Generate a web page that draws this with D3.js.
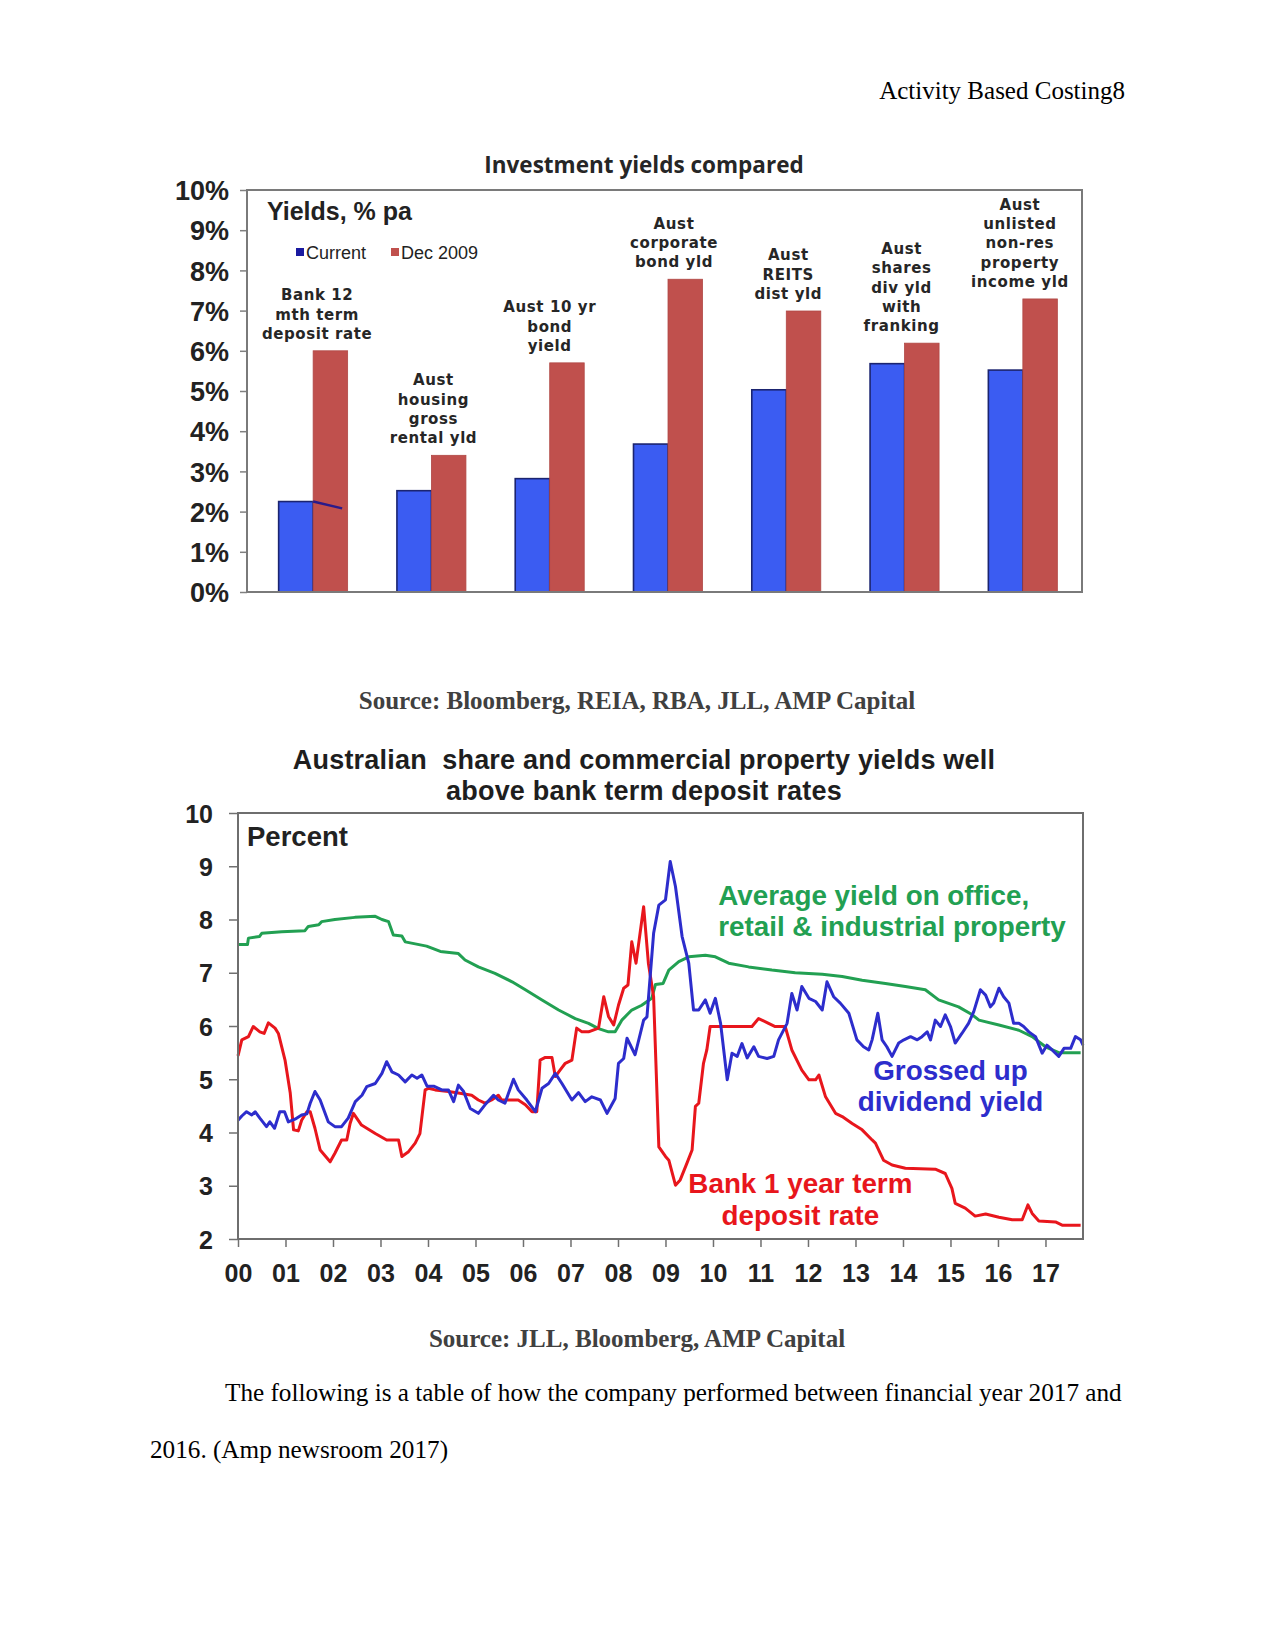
<!DOCTYPE html>
<html>
<head>
<meta charset="utf-8">
<script src="https://cdn.jsdelivr.net/npm/d3@7"></script>
<style>
  html, body { margin: 0; padding: 0; background: #fff; }
  svg { display: block; }
</style>
</head>
<body>
<svg id="page" width="1275" height="1650"></svg>
<script>
// ---------------- DATA ----------------
// Chart 1: Investment yields compared (% pa)
const barCategories = [
  ["Bank 12", "mth term", "deposit rate"],
  ["Aust", "housing", "gross", "rental yld"],
  ["Aust 10 yr", "bond", "yield"],
  ["Aust", "corporate", "bond yld"],
  ["Aust", "REITS", "dist yld"],
  ["Aust", "shares", "div yld", "with", "franking"],
  ["Aust", "unlisted", "non-res", "property", "income yld"]
];
const barSeries = ["Current", "Dec 2009"];
const currentYields = [2.25, 2.52, 2.82, 3.68, 5.03, 5.68, 5.52];
const dec2009Yields = [6.0, 3.4, 5.7, 7.78, 6.99, 6.19, 7.29];
const barTicks = [0, 1, 2, 3, 4, 5, 6, 7, 8, 9, 10];

// Chart 2: yields, percent; x = years since 2000
const yearTicks = ["00","01","02","03","04","05","06","07","08","09","10","11","12","13","14","15","16","17"];
const lineTicks = [2, 3, 4, 5, 6, 7, 8, 9, 10];
const propertyYield = [
  [0,7.53],[0.2,7.53],[0.22,7.65],[0.45,7.68],[0.5,7.74],[0.92,7.77],[1.41,7.79],[1.48,7.87],[1.7,7.9],
  [1.76,7.96],[2.04,8.0],[2.46,8.04],[2.89,8.06],[3.03,8.0],[3.17,7.96],[3.27,7.71],[3.45,7.69],[3.52,7.58],
  [3.97,7.5],[4.26,7.4],[4.64,7.36],[4.78,7.24],[5.06,7.11],[5.41,6.99],[5.77,6.83],[6.05,6.68],[6.4,6.49],
  [6.75,6.3],[7.1,6.14],[7.38,6.05],[7.59,5.95],[7.8,5.89],[7.94,5.89],[8.08,6.11],[8.29,6.3],[8.5,6.39],
  [8.71,6.52],[8.79,6.78],[8.95,6.8],[9.07,7.05],[9.28,7.21],[9.49,7.3],[9.84,7.33],[10.05,7.3],[10.33,7.18],
  [10.75,7.11],[11.24,7.05],[11.73,7.0],[12.3,6.97],[12.72,6.93],[13.14,6.86],[13.63,6.8],[14.05,6.74],
  [14.47,6.68],[14.75,6.49],[15.17,6.36],[15.46,6.21],[15.6,6.11],[16.02,6.02],[16.44,5.92],[16.72,5.8],
  [17.0,5.61],[17.28,5.5],[17.74,5.5]
];
const depositRate = [
  [0,5.44],[0.08,5.74],[0.22,5.8],[0.32,5.99],[0.46,5.89],[0.55,5.86],[0.64,6.06],[0.78,5.96],[0.85,5.86],
  [0.99,5.36],[1.1,4.74],[1.17,4.05],[1.27,4.03],[1.34,4.23],[1.45,4.39],[1.52,4.39],[1.62,4.08],[1.73,3.67],
  [1.94,3.45],[2.04,3.61],[2.18,3.86],[2.29,3.86],[2.36,4.17],[2.43,4.36],[2.6,4.14],[2.89,3.98],[3.13,3.86],
  [3.38,3.86],[3.45,3.55],[3.59,3.64],[3.73,3.8],[3.83,3.98],[3.94,4.8],[4.01,4.83],[4.15,4.8],[4.43,4.77],
  [4.64,4.74],[4.92,4.7],[5.06,4.61],[5.2,4.55],[5.34,4.61],[5.48,4.7],[5.55,4.61],[5.9,4.61],[6.05,4.52],
  [6.19,4.39],[6.29,4.39],[6.36,5.36],[6.47,5.41],[6.61,5.41],[6.68,5.05],[6.78,5.17],[6.89,5.3],[7.03,5.36],
  [7.13,5.96],[7.24,5.89],[7.38,5.89],[7.59,5.96],[7.7,6.55],[7.8,6.18],[7.91,6.02],[8.01,6.39],[8.12,6.71],
  [8.21,6.77],[8.29,7.58],[8.38,7.18],[8.54,8.24],[8.64,7.18],[8.75,6.55],[8.86,3.73],[9.0,3.55],[9.07,3.48],
  [9.21,3.01],[9.31,3.11],[9.45,3.42],[9.56,3.67],[9.63,4.49],[9.7,4.55],[9.8,5.3],[9.87,5.55],[9.94,5.99],
  [10.82,5.99],[10.96,6.14],[11.17,6.05],[11.31,5.99],[11.52,5.99],[11.66,5.55],[11.87,5.17],[12.02,4.99],
  [12.16,4.99],[12.23,5.08],[12.37,4.67],[12.58,4.36],[12.72,4.3],[12.93,4.17],[13.14,4.05],[13.35,3.86],
  [13.42,3.8],[13.59,3.48],[13.77,3.39],[14.05,3.33],[14.68,3.31],[14.89,3.23],[15.03,2.95],[15.1,2.67],
  [15.31,2.58],[15.52,2.43],[15.74,2.47],[16.02,2.41],[16.3,2.36],[16.51,2.36],[16.63,2.64],[16.72,2.48],
  [16.86,2.34],[17.21,2.32],[17.35,2.26],[17.74,2.26]
];
const dividendYield = [
  [0,4.23],[0.08,4.31],[0.18,4.39],[0.29,4.33],[0.36,4.39],[0.46,4.27],[0.6,4.11],[0.67,4.2],[0.77,4.08],
  [0.88,4.39],[0.98,4.39],[1.06,4.2],[1.2,4.25],[1.34,4.33],[1.45,4.35],[1.52,4.55],[1.62,4.77],[1.73,4.61],
  [1.9,4.2],[2.04,4.11],[2.18,4.11],[2.32,4.27],[2.47,4.58],[2.61,4.7],[2.71,4.86],[2.89,4.92],[3.03,5.11],
  [3.13,5.33],[3.24,5.14],[3.38,5.08],[3.52,4.95],[3.66,5.08],[3.77,5.02],[3.87,5.08],[3.98,4.87],[4.12,4.87],
  [4.29,4.8],[4.43,4.8],[4.54,4.58],[4.64,4.89],[4.75,4.77],[4.89,4.45],[5.06,4.36],[5.2,4.52],[5.38,4.7],
  [5.48,4.61],[5.62,4.55],[5.8,5.0],[5.9,4.8],[6.08,4.61],[6.26,4.39],[6.4,4.83],[6.54,4.92],[6.68,5.11],
  [6.82,4.92],[7.03,4.61],[7.17,4.75],[7.31,4.58],[7.45,4.67],[7.63,4.61],[7.77,4.36],[7.94,4.64],[8.01,5.3],
  [8.12,5.39],[8.19,5.77],[8.36,5.46],[8.54,6.11],[8.61,6.17],[8.75,7.74],[8.86,8.27],[9.0,8.37],[9.1,9.09],
  [9.21,8.62],[9.35,7.68],[9.49,7.18],[9.59,6.3],[9.7,6.3],[9.84,6.49],[9.94,6.24],[10.05,6.52],[10.16,6.05],
  [10.3,4.99],[10.4,5.49],[10.51,5.43],[10.61,5.67],[10.72,5.4],[10.86,5.61],[10.96,5.43],[11.14,5.39],
  [11.28,5.43],[11.38,5.74],[11.56,6.05],[11.66,6.61],[11.77,6.3],[11.87,6.74],[12.02,6.52],[12.16,6.46],
  [12.3,6.3],[12.4,6.83],[12.54,6.55],[12.68,6.43],[12.86,6.24],[13.03,5.74],[13.17,5.61],[13.28,5.55],
  [13.35,5.74],[13.47,6.24],[13.56,5.74],[13.66,5.61],[13.77,5.43],[13.91,5.68],[14.02,5.74],[14.16,5.8],
  [14.3,5.74],[14.4,5.8],[14.51,5.89],[14.58,5.74],[14.68,6.11],[14.79,5.99],[14.89,6.21],[15.0,5.99],
  [15.1,5.68],[15.24,5.86],[15.38,6.05],[15.49,6.27],[15.63,6.68],[15.74,6.58],[15.84,6.36],[15.91,6.43],
  [16.02,6.71],[16.12,6.55],[16.23,6.43],[16.33,6.05],[16.44,6.05],[16.54,5.99],[16.65,5.89],[16.79,5.8],
  [16.93,5.49],[17.03,5.64],[17.14,5.55],[17.28,5.43],[17.39,5.58],[17.53,5.58],[17.63,5.8],[17.74,5.74],
  [17.79,5.64]
];

// ---------------- DRAW ----------------
const svg = d3.select("#page");
svg.append("rect").attr("width", 1275).attr("height", 1650).attr("fill", "#fff");

const SANS = "'Liberation Sans', Arial, sans-serif";
const SERIF = "'Liberation Serif', 'Times New Roman', serif";

// Page header & text
svg.append("text").attr("x", 1125).attr("y", 99).attr("text-anchor", "end")
  .attr("font-family", SERIF).attr("font-size", 25).attr("fill", "#000")
  .text("Activity Based Costing8");

svg.append("text").attr("x", 637).attr("y", 709).attr("text-anchor", "middle")
  .attr("font-family", SERIF).attr("font-size", 25).attr("font-weight", "bold").attr("fill", "#404040")
  .text("Source: Bloomberg, REIA, RBA, JLL, AMP Capital");

svg.append("text").attr("x", 637).attr("y", 1347).attr("text-anchor", "middle")
  .attr("font-family", SERIF).attr("font-size", 25).attr("font-weight", "bold").attr("fill", "#404040")
  .text("Source: JLL, Bloomberg, AMP Capital");

svg.append("text").attr("x", 225).attr("y", 1401)
  .attr("font-family", SERIF).attr("font-size", 25.2).attr("fill", "#000")
  .text("The following is a table of how the company performed between financial year 2017 and");
svg.append("text").attr("x", 150).attr("y", 1458)
  .attr("font-family", SERIF).attr("font-size", 25.2).attr("fill", "#000")
  .text("2016. (Amp newsroom 2017)");

// ===== Chart 1 =====
(function() {
  const L = 247, R = 1082, T = 190, B = 592;
  const y = d3.scaleLinear().domain([0, 10]).range([B, T]);
  const x0 = d3.scaleBand().domain(d3.range(barCategories.length)).range([254, 1082]).padding(0);
  const x1 = d3.scaleBand().domain(barSeries).range([-34.5, 34.5]);
  const g = svg.append("g");

  g.append("text").attr("x", 644).attr("y", 173).attr("text-anchor", "middle")
    .attr("font-family", "'Open Sans', sans-serif").attr("font-weight", 700).attr("font-size", 22.5)
    .attr("fill", "#262626").text("Investment yields compared");

  const yAxis = g.append("g").attr("transform", `translate(${L},0)`)
    .call(d3.axisLeft(y).tickValues(barTicks).tickSize(7).tickPadding(11).tickFormat(d => d + "%"));
  yAxis.select(".domain").remove();
  yAxis.selectAll(".tick line").attr("stroke", "#808080").attr("stroke-width", 1.5);
  yAxis.selectAll(".tick text").attr("font-family", SANS).attr("font-weight", "bold")
    .attr("font-size", 27).attr("fill", "#222").attr("dy", "0.36em");

  // bars
  const groups = g.selectAll(".grp").data(barCategories).join("g")
    .attr("transform", (d, i) => `translate(${x0(i) + x0.bandwidth() / 2},0)`);
  groups.append("rect")
    .attr("x", x1("Current")).attr("width", x1.bandwidth())
    .attr("y", (d, i) => y(currentYields[i])).attr("height", (d, i) => B - y(currentYields[i]))
    .attr("fill", "#3b5cf2").attr("stroke", "#1b2470").attr("stroke-width", 1.6);
  groups.append("rect")
    .attr("x", x1("Dec 2009")).attr("width", x1.bandwidth())
    .attr("y", (d, i) => y(dec2009Yields[i])).attr("height", (d, i) => B - y(dec2009Yields[i]))
    .attr("fill", "#c0504d").attr("stroke", "#b04845").attr("stroke-width", 0.8);

  // stray pen stroke on first group
  const c0 = x0(0) + x0.bandwidth() / 2;
  g.append("path")
    .attr("d", `M${c0},${y(currentYields[0])} Q${c0 + 12},${y(2.18)} ${c0 + 29},${y(2.08)}`)
    .attr("fill", "none").attr("stroke", "#2a1a8a").attr("stroke-width", 2.5);

  // category labels
  const labelShift = [4, 2, 0, 6, 2, -3, -3];
  groups.each(function(lines, i) {
    const top = y(Math.max(currentYields[i], dec2009Yields[i])) - 12;
    const t = d3.select(this).append("text")
      .attr("text-anchor", "middle").attr("font-family", "'DejaVu Sans', Verdana, sans-serif")
      .attr("font-weight", "bold").attr("font-size", 15).attr("fill", "#262626")
      .attr("letter-spacing", 0.6);
    lines.forEach((ln, k) => {
      t.append("tspan").attr("x", labelShift[i]).attr("y", top - (lines.length - 1 - k) * 19.3).text(ln);
    });
  });

  // frame
  g.append("rect").attr("x", L).attr("y", T).attr("width", R - L).attr("height", B - T)
    .attr("fill", "none").attr("stroke", "#7a7a7a").attr("stroke-width", 2);

  g.append("text").attr("x", 267).attr("y", 220).attr("font-family", SANS).attr("font-weight", "bold")
    .attr("font-size", 25).attr("fill", "#222").text("Yields, % pa");

  // legend
  const leg = g.append("g").attr("font-family", SANS).attr("font-size", 18).attr("fill", "#222");
  const legItems = [{name: barSeries[0], color: "#1a1aa0", x: 296}, {name: barSeries[1], color: "#c0504d", x: 391}];
  legItems.forEach(it => {
    leg.append("rect").attr("x", it.x).attr("y", 248).attr("width", 8).attr("height", 8).attr("fill", it.color);
    leg.append("text").attr("x", it.x + 10).attr("y", 258.5).text(it.name);
  });
})();

// ===== Chart 2 =====
(function() {
  const L = 238, R = 1083, T = 813, B = 1239;
  const x = d3.scaleLinear().domain([0, 17.79]).range([L, R]);
  const y = d3.scaleLinear().domain([2, 10]).range([B, T]);
  const g = svg.append("g");

  g.append("text").attr("x", 644).attr("y", 769).attr("text-anchor", "middle")
    .attr("font-family", SANS).attr("font-weight", "bold").attr("font-size", 27).attr("fill", "#1e1e1e")
    .attr("letter-spacing", 0.2)
    .attr("xml:space", "preserve").text("Australian  share and commercial property yields well");
  g.append("text").attr("x", 644).attr("y", 800).attr("text-anchor", "middle")
    .attr("font-family", SANS).attr("font-weight", "bold").attr("font-size", 27).attr("fill", "#1e1e1e")
    .attr("letter-spacing", 0.2)
    .text("above bank term deposit rates");

  const yAxis = g.append("g").attr("transform", `translate(${L},0)`)
    .call(d3.axisLeft(y).tickValues(lineTicks).tickSize(9).tickPadding(16).tickFormat(d3.format("d")));
  yAxis.select(".domain").remove();
  yAxis.selectAll(".tick line").attr("stroke", "#707070").attr("stroke-width", 1.5);
  yAxis.selectAll(".tick text").attr("font-family", SANS).attr("font-weight", "bold")
    .attr("font-size", 25).attr("fill", "#222").attr("dy", "0.36em");

  const xAxis = g.append("g").attr("transform", `translate(0,${B})`)
    .call(d3.axisBottom(x).tickValues(d3.range(yearTicks.length)).tickSize(8).tickPadding(17)
      .tickFormat(i => yearTicks[i]));
  xAxis.select(".domain").remove();
  xAxis.selectAll(".tick line").attr("stroke", "#707070").attr("stroke-width", 1.5);
  xAxis.selectAll(".tick text").attr("font-family", SANS).attr("font-weight", "bold")
    .attr("font-size", 25).attr("fill", "#222");

  const line = d3.line().x(d => x(d[0])).y(d => y(d[1]));
  const series = [
    {data: propertyYield, color: "#22a052"},
    {data: depositRate, color: "#e8161c"},
    {data: dividendYield, color: "#2d2dcc"}
  ];
  series.forEach(s => {
    g.append("path").attr("d", line(s.data)).attr("fill", "none")
      .attr("stroke", s.color).attr("stroke-width", 3).attr("stroke-linejoin", "round");
  });

  g.append("rect").attr("x", L).attr("y", T).attr("width", R - L).attr("height", B - T)
    .attr("fill", "none").attr("stroke", "#6e6e6e").attr("stroke-width", 2);

  g.append("text").attr("x", 247).attr("y", 846).attr("font-family", SANS).attr("font-weight", "bold")
    .attr("font-size", 27.5).attr("fill", "#222").text("Percent");

  const lab = (txt, xv, yv, color, anchor) => g.append("text")
    .attr("x", x(xv)).attr("y", y(yv)).attr("text-anchor", anchor)
    .attr("font-family", SANS).attr("font-weight", "bold").attr("font-size", 27.8)
    .attr("fill", color).text(txt);
  lab("Average yield on office,", 10.11, 8.27, "#22a052", "start");
  lab("retail & industrial property", 10.11, 7.69, "#22a052", "start");
  lab("Grossed up", 15.0, 4.99, "#2d2dcc", "middle");
  lab("dividend yield", 15.0, 4.41, "#2d2dcc", "middle");
  lab("Bank 1 year term", 11.84, 2.86, "#e8161c", "middle");
  lab("deposit rate", 11.84, 2.26, "#e8161c", "middle");
})();
</script>
</body>
</html>
